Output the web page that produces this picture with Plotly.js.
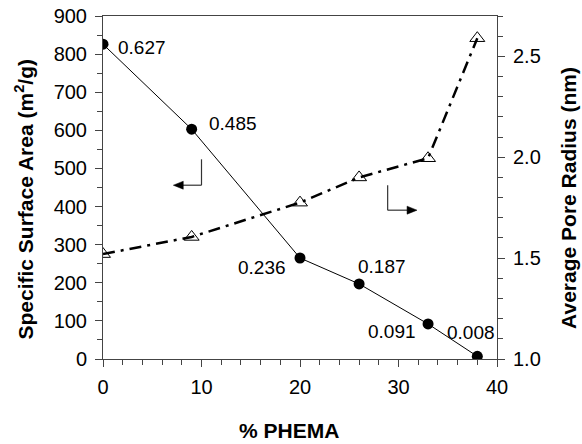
<!DOCTYPE html>
<html>
<head>
<meta charset="utf-8">
<script src="https://cdn.plot.ly/plotly-3.0.1.min.js"></script>
<style>html,body{margin:0;padding:0;background:#fff}#chart{width:582px;height:444px}</style>
</head>
<body>
<div id="chart"></div>
<script>
// Data
const phema = [0, 9, 20, 26, 33, 38];
const surfaceArea = [826, 603, 265, 197, 92, 7];
const poreRadiusX = [0, 9, 20, 26, 33, 38];
const poreRadius = [1.52, 1.605, 1.775, 1.90, 1.995, 2.59];
const pointLabels = ['0.627', '0.485', '0.236', '0.187', '0.091', '0.008'];
const labelOffsets = [[39, -3], [41, 6], [-38, -9], [23, 17], [-36, -8], [-6, 24]];

const FONT = 'Liberation Sans, Arial, sans-serif';

const traces = [
  {
    x: phema, y: surfaceArea, type: 'scatter', mode: 'lines+markers',
    line: {color: '#000', width: 1},
    marker: {symbol: 'circle', size: 11, color: '#000'},
    showlegend: false, yaxis: 'y', hoverinfo: 'none'
  },
  {
    x: poreRadiusX, y: poreRadius, type: 'scatter', mode: 'lines+markers',
    line: {color: '#000', width: 2.5, dash: '12px,6px,3px,6px'},
    marker: {symbol: 'triangle-up-open', size: 13, color: '#000', line: {width: 1, color: '#000'}},
    showlegend: false, yaxis: 'y2', hoverinfo: 'none'
  }
];

const annotations = pointLabels.map((t, i) => ({
  x: phema[i], y: surfaceArea[i], xref: 'x', yref: 'y',
  text: t, showarrow: false, xshift: labelOffsets[i][0], yshift: labelOffsets[i][1],
  xanchor: 'center', yanchor: 'middle',
  font: {family: FONT, size: 19, color: '#000'}
}));

// Axis titles
annotations.push(
  {xref: 'paper', yref: 'paper', x: -0.2005, y: 0.465, xanchor: 'center', yanchor: 'middle',
   text: '<b>Specific Surface Area (m<sup>2</sup>/g)</b>',
   textangle: -90, showarrow: false, font: {family: FONT, size: 21, color: '#000'}},
  {xref: 'paper', yref: 'paper', x: 1.183, y: 0.47, xanchor: 'center', yanchor: 'middle',
   text: '<b>Average Pore Radius (nm)</b>',
   textangle: -90, showarrow: false, font: {family: FONT, size: 21, color: '#000'}},
  {xref: 'paper', yref: 'paper', x: 0.472, y: -0.208, xanchor: 'center', yanchor: 'middle',
   text: '<b>% PHEMA</b>',
   showarrow: false, font: {family: FONT, size: 21, color: '#000'}}
);

// Bent arrows indicating which axis each curve belongs to
const ARROW = '#333';
const shapes = [
  {type: 'line', xref: 'x', yref: 'y', x0: 10, x1: 10, y0: 456, y1: 524, line: {color: ARROW, width: 1.2}},
  {type: 'line', xref: 'x', yref: 'y', x0: 10, x1: 8.1, y0: 456, y1: 456, line: {color: ARROW, width: 1.2}},
  {type: 'path', xref: 'x', yref: 'y', path: 'M 7.14 456 L 8.15 466.5 L 8.15 445.5 Z',
   fillcolor: '#000', line: {color: '#000', width: 0.5}},
  {type: 'line', xref: 'x', yref: 'y', x0: 28.9, x1: 28.9, y0: 390.5, y1: 456, line: {color: ARROW, width: 1.2}},
  {type: 'line', xref: 'x', yref: 'y', x0: 28.9, x1: 30.9, y0: 390.5, y1: 390.5, line: {color: ARROW, width: 1.2}},
  {type: 'path', xref: 'x', yref: 'y', path: 'M 31.88 390.5 L 30.87 401 L 30.87 380 Z',
   fillcolor: '#000', line: {color: '#000', width: 0.5}}
];

const layout = {
  width: 582, height: 444,
  margin: {l: 103, r: 85, t: 16, b: 85},
  paper_bgcolor: '#fff', plot_bgcolor: '#fff',
  font: {family: FONT, size: 20, color: '#000'},
  xaxis: {
    range: [0, 40], dtick: 10, tick0: 0, ticks: 'outside', ticklen: 7, tickcolor: '#444',
    showline: true, linecolor: '#444', linewidth: 1, mirror: true, showgrid: false, zeroline: false,
    ticklabelstandoff: 3,
    minor: {dtick: 2, ticks: 'outside', ticklen: 5, tickcolor: '#444', showgrid: false}
  },
  yaxis: {
    range: [0, 900], dtick: 100, tick0: 0, ticks: 'outside', ticklen: 7, tickcolor: '#444',
    showline: true, linecolor: '#444', linewidth: 1, showgrid: false, zeroline: false,
    ticklabelstandoff: 4,
    minor: {dtick: 50, ticks: 'outside', ticklen: 5, tickcolor: '#444', showgrid: false}
  },
  yaxis2: {
    range: [1.0, 2.7], dtick: 0.5, tick0: 1.0, tickformat: '.1f', overlaying: 'y', side: 'right',
    ticks: 'outside', ticklen: 7, tickcolor: '#444',
    showline: true, linecolor: '#444', linewidth: 1, showgrid: false, zeroline: false,
    ticklabelstandoff: 4,
    minor: {dtick: 0.1, ticks: 'outside', ticklen: 5, tickcolor: '#444', showgrid: false}
  },
  annotations: annotations,
  shapes: shapes
};

Plotly.newPlot('chart', traces, layout, {staticPlot: true, displayModeBar: false});
</script>
</body>
</html>
